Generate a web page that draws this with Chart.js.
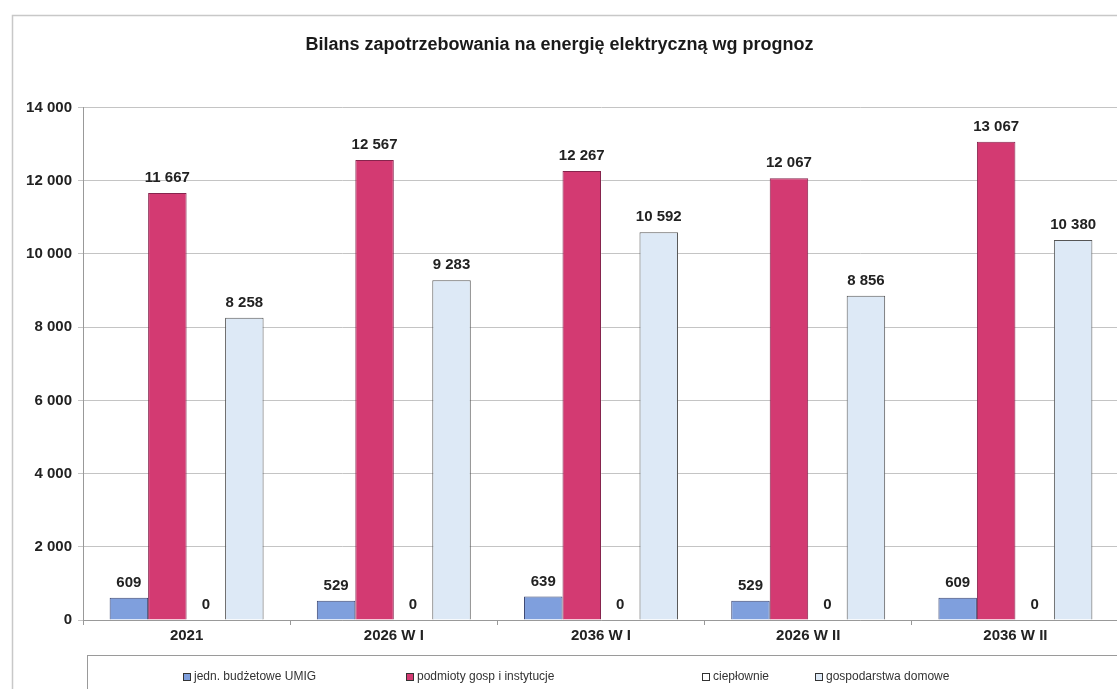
<!DOCTYPE html>
<html>
<head>
<meta charset="utf-8">
<script src="https://cdn.jsdelivr.net/npm/chart.js@4"></script>
<style>
  body { margin: 0; background: #fff; overflow: hidden; }
  #wrap { width: 1130px; height: 689px; position: relative; }
</style>
</head>
<body>
<div id="wrap"><canvas id="myChart"></canvas></div>
<script>
categories = ["2021", "2026 W I", "2036 W I", "2026 W II", "2036 W II"]

seriesNames = [
    "jedn. budżetowe UMIG",
    "podmioty gosp i instytucje",
    "ciepłownie",
    "gospodarstwa domowe"
]

budzetowe = [609, 529, 639, 529, 609]
podmioty = [11667, 12567, 12267, 12067, 13067]
cieplownie = [0, 0, 0, 0, 0]
domowe = [8258, 9283, 10592, 8856, 10380]

yTicks = [0, 2000, 4000, 6000, 8000, 10000, 12000, 14000]

const FONT = "'Liberation Sans', Arial, sans-serif"

function fmt(v) {
    return String(v).replace(/\B(?=(\d{3})+(?!\d))/g, " ")
}

// value labels above each bar
const valueLabels = {
    id: "valueLabels",
    afterDatasetsDraw(chart) {
        const ctx = chart.ctx
        ctx.save()
        ctx.font = "bold 15px " + FONT
        ctx.fillStyle = "#222"
        ctx.textAlign = "center"
        ctx.textBaseline = "middle"
        chart.data.datasets.forEach((ds, i) => {
            const meta = chart.getDatasetMeta(i)
            meta.data.forEach((bar, j) => {
                ctx.fillText(fmt(ds.data[j]), bar.x, bar.y - 15)
            })
        })
        ctx.restore()
    }
}

// outer frame + legend box, drawn like the excel one
const frameAndLegend = {
    id: "frameAndLegend",
    afterDraw(chart) {
        const ctx = chart.ctx
        ctx.save()
        ctx.strokeStyle = "#c8c8c8"
        ctx.lineWidth = 1.5
        ctx.strokeRect(12.5, 15.5, 1200, 800)
        ctx.strokeStyle = "#9a9a9a"
        ctx.lineWidth = 1
        ctx.strokeRect(87.5, 655.5, 1200, 100)

        const xs = [183, 406, 702, 815]
        ctx.font = "12px " + FONT
        ctx.textBaseline = "middle"
        ctx.textAlign = "left"
        chart.data.datasets.forEach((ds, i) => {
            const x = xs[i], y = 677
            ctx.fillStyle = ds.legendFill
            ctx.fillRect(x, y - 4, 8, 8)
            ctx.strokeStyle = "#333"
            ctx.strokeRect(x + 0.5, y - 3.5, 7, 7)
            ctx.fillStyle = "#333"
            ctx.fillText(ds.label, x + 11, y)
        })
        ctx.restore()
    }
}

const ctx = document.getElementById("myChart")
new Chart(ctx, {
    type: "bar",
    data: {
        labels: categories,
        datasets: [
            {
                label: seriesNames[0],
                data: budzetowe,
                backgroundColor: "#7f9fdd",
                borderColor: "#3b4672",
                borderWidth: 1,
                legendFill: "#7f9fdd"
            },
            {
                label: seriesNames[1],
                data: podmioty,
                backgroundColor: "#d33a72",
                borderColor: "#86244d",
                borderWidth: 1,
                legendFill: "#d33a72"
            },
            {
                label: seriesNames[2],
                data: cieplownie,
                backgroundColor: "#ffffff",
                borderWidth: 0,
                legendFill: "#ffffff"
            },
            {
                label: seriesNames[3],
                data: domowe,
                backgroundColor: "#dde9f6",
                borderColor: "#555",
                borderWidth: 1,
                legendFill: "#dde9f6"
            }
        ]
    },
    options: {
        responsive: true,
        maintainAspectRatio: false,
        animation: false,
        datasets: {
            bar: {
                categoryPercentage: 0.743,
                barPercentage: 1
            }
        },
        layout: {
            padding: { left: 0, right: 11, top: 0, bottom: 39 }
        },
        scales: {
            x: {
                afterFit(scale) { scale.height = 30 },
                grid: {
                    display: true,
                    drawOnChartArea: false,
                    offset: true,
                    tickLength: 5,
                    color: "#999"
                },
                border: { color: "#999" },
                ticks: {
                    color: "#222",
                    padding: 2,
                    font: { family: FONT, size: 15, weight: "bold" }
                }
            },
            y: {
                min: 0,
                max: 14000,
                afterFit(scale) { scale.width = 83 },
                afterBuildTicks(scale) {
                    scale.ticks = yTicks.map(v => ({ value: v }))
                },
                grid: {
                    color: "#c4c4c4",
                    tickLength: 5
                },
                border: { color: "#999" },
                ticks: {
                    color: "#222",
                    padding: 6,
                    font: { family: FONT, size: 15, weight: "bold" },
                    callback: v => fmt(v)
                }
            }
        },
        plugins: {
            title: {
                display: true,
                text: "Bilans zapotrzebowania na energię elektryczną wg prognoz",
                color: "#1a1a1a",
                font: { family: FONT, size: 18, weight: "bold" },
                padding: { top: 34, bottom: 52 }
            },
            legend: { display: false },
            tooltip: { enabled: false }
        }
    },
    plugins: [valueLabels, frameAndLegend]
})
</script>
</body>
</html>
